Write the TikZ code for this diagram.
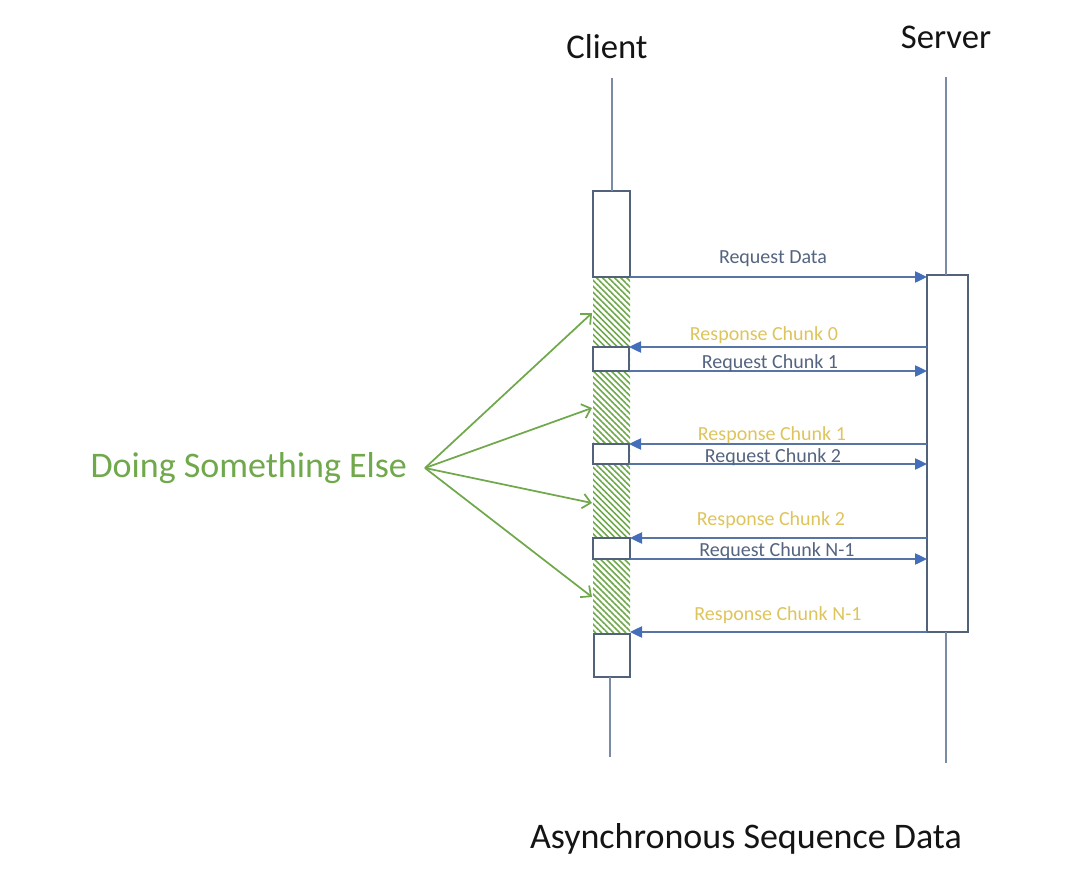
\documentclass[tikz,border=0pt]{standalone}
\usepackage{fontspec}
\setmainfont{Carlito}
\usetikzlibrary{arrows.meta,patterns.meta,fit}
\definecolor{SeqInk}{RGB}{20,20,20}
\definecolor{SeqBox}{RGB}{82,98,122}
\definecolor{SeqLine}{RGB}{88,116,164}
\definecolor{SeqTip}{RGB}{68,110,186}
\definecolor{SeqLife}{RGB}{122,140,164}
\definecolor{SeqRequest}{RGB}{84,100,128}
\definecolor{SeqResponse}{RGB}{222,196,92}
\definecolor{SeqGreen}{RGB}{112,168,76}
\tikzset{
    seq/diagram/.style={
        x=0.75pt, y=-0.75pt,
        line join=miter,
        every node/.style={inner sep=0pt, outer sep=0pt}
    },
    seq/actor/.style={font=\fontsize{26}{30}\selectfont, text=SeqInk},
    seq/title/.style={font=\fontsize{27}{32}\selectfont, text=SeqInk},
    seq/lifeline/.style={draw=SeqLife, line width=0.8pt},
    seq/box/.style={draw=SeqBox, line width=2pt, fill=white, inner sep=0pt},
    seq/busy/.style={
        fill=white,
        pattern={Lines[angle=-45, distance=3.2pt, line width=1.2pt]},
        pattern color=SeqGreen
    },
    seq/request/.style={
        draw=SeqLine, line width=1pt,
        -{Triangle[length=9pt, width=8.5pt, color=SeqTip]}
    },
    seq/reqlabel/.style={font=\fontsize{15}{18}\selectfont, text=SeqRequest},
    seq/resplabel/.style={font=\fontsize{15}{18}\selectfont, text=SeqResponse},
    seq/hint/.style={
        draw=SeqGreen, line width=1.3pt,
        -{Straight Barb[length=6pt, width=11pt]}
    },
    seq/hintlabel/.style={font=\fontsize{27}{32}\selectfont, text=SeqGreen}
}

\begin{document}
\begin{tikzpicture}[seq/diagram]
    \useasboundingbox (0,0) rectangle (1065,882);
    % actors and lifelines
    \node[seq/actor] (Client) at (607,47) {Client};
    \node[seq/actor] (Server) at (946,37) {Server};
    \coordinate (ClientTop) at (612,78);
    \coordinate (ClientEnd) at (610,757);
    \coordinate (ServerTop) at (946,77);
    \coordinate (ServerEnd) at (946,763);
    % client is busy with other work in between
    \fill[seq/busy] (593,277) rectangle (630,632);
    \node[seq/box, fit={(593,191) (630,277)}] (ClientOpen) {};
    \node[seq/box, fit={(593,347) (629,371)}] (ChunkOne) {};
    \node[seq/box, fit={(593,444) (629,464)}] (ChunkTwo) {};
    \node[seq/box, fit={(593,538) (630,559)}] (ChunkLast) {};
    \node[seq/box, fit={(594,634) (630,677)}] (ClientClose) {};
    \node[seq/box, fit={(927,275) (968,632)}] (ServerAct) {};
    \draw[seq/lifeline] (ClientTop) -- (ClientTop |- ClientOpen.north);
    \draw[seq/lifeline] (ClientEnd |- ClientClose.south) -- (ClientEnd);
    \draw[seq/lifeline] (ServerTop) -- (ServerTop |- ServerAct.north);
    \draw[seq/lifeline] (ServerTop |- ServerAct.south) -- (ServerEnd);
    % messages
    \draw[seq/request] (ClientOpen.south east) -- (ClientOpen.south east -| ServerAct.west);
    \node[seq/reqlabel] (ReqData) at (773,259) {Request Data};
    \draw[seq/request] (ChunkOne.north east -| ServerAct.west) -- (ChunkOne.north east);
    \node[seq/resplabel] (RespZero) at (764,335) {Response Chunk 0};
    \draw[seq/request] (ChunkOne.south east) -- (ChunkOne.south east -| ServerAct.west);
    \node[seq/reqlabel] (ReqOne) at (770,363) {Request Chunk 1};
    \draw[seq/request] (ChunkTwo.north east -| ServerAct.west) -- (ChunkTwo.north east);
    \node[seq/resplabel] (RespOne) at (772,435) {Response Chunk 1};
    \draw[seq/request] (ChunkTwo.south east) -- (ChunkTwo.south east -| ServerAct.west);
    \node[seq/reqlabel] (ReqTwo) at (773,457) {Request Chunk 2};
    \draw[seq/request] (ChunkLast.north east -| ServerAct.west) -- (ChunkLast.north east);
    \node[seq/resplabel] (RespTwo) at (771,520) {Response Chunk 2};
    \draw[seq/request] (ChunkLast.south east) -- (ChunkLast.south east -| ServerAct.west);
    \node[seq/reqlabel] (ReqLast) at (777,551) {Request Chunk N-1};
    \draw[seq/request] (ServerAct.south west) -- (ServerAct.south west -| ChunkLast.east);
    \node[seq/resplabel] (RespLast) at (778,615) {Response Chunk N-1};
    % what the client does meanwhile
    \node[seq/hintlabel, anchor=east, inner xsep=13.5pt] (Doing) at (425,468) {Doing Something Else};
    \coordinate (BusyA) at (592,313);
    \coordinate (BusyB) at (592,408);
    \coordinate (BusyC) at (592,503);
    \coordinate (BusyD) at (592,597);
    \draw[seq/hint] (Doing.east) -- (BusyA);
    \draw[seq/hint] (Doing.east) -- (BusyB);
    \draw[seq/hint] (Doing.east) -- (BusyC);
    \draw[seq/hint] (Doing.east) -- (BusyD);
    \node[seq/title, anchor=base west] (Title) at (530,848) {Asynchronous Sequence Data};
\end{tikzpicture}
\end{document}
